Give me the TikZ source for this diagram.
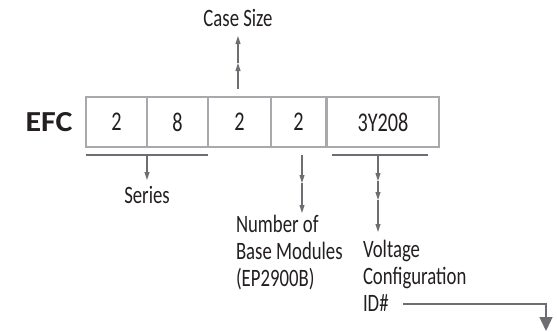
\documentclass[tikz,border=0pt]{standalone}
\usepackage{fontspec}
\setmainfont{Carlito}[FakeStretch=0.75]
\newfontfamily\efcfont{Carlito}[FakeStretch=1.1]
\usetikzlibrary{arrows.meta}
\definecolor{boxgray}{HTML}{A7A9AC}
\definecolor{arrgray}{HTML}{6D6E71}
\definecolor{ink}{HTML}{231F20}
\begin{document}
\begin{tikzpicture}[x=1pt,y=-1pt,
  every node/.style={inner sep=0pt, outer sep=0pt, text=ink},
  cell/.style={draw=boxgray, line width=1.5pt, minimum height=50pt, font=\fontsize{27}{29}\selectfont},
  lbl/.style={font=\fontsize{25}{27}\selectfont, align=left},
  arr/.style={draw=arrgray, line width=1.1pt, -{Triangle[length=8pt,width=5pt]}},
  bigarr/.style={draw=arrgray, line width=1.4pt, -{Triangle[length=14pt,width=13pt]}},
  bracket/.style={draw=arrgray, line width=1.4pt}]
\useasboundingbox (0,0) rectangle (557,332);

% title
\node[font=\efcfont\bfseries\fontsize{29}{32}\selectfont, anchor=base] (efc) at (49,131) {EFC};

% code boxes
\node[cell, minimum width=61pt]  (b1) at (116.5,122) {2};
\node[cell, minimum width=61pt]  (b2) at (177.5,122) {8};
\node[cell, minimum width=63pt]  (b3) at (239.5,122) {2};
\node[cell, minimum width=55pt]  (b4) at (298.5,122) {2};
\node[cell, minimum width=112pt] (b5) at (383,122) {3Y208};

% labels
\node[lbl, anchor=base] (case) at (238,27) {Case Size};
\node[lbl, anchor=base] (series) at (147,203) {Series};
\node[lbl, anchor=north west] (num) at (236,215) {Number of\\Base Modules\\(EP2900B)};
\node[lbl, anchor=north west] (volt) at (363,240) {Voltage\\Configuration\\ID\#};

% coordinates for connectors
\coordinate (cs0) at (238,89);
\coordinate (cs1) at (238,63);
\coordinate (cs2) at (238,36);

\coordinate (sl) at (86,155);
\coordinate (sr) at (208,155);
\coordinate (sm) at (147,155);
\coordinate (st) at (147,180);

\coordinate (n0) at (302,155);
\coordinate (n1) at (302,183);
\coordinate (n2) at (302,213);

\coordinate (vl) at (332,155);
\coordinate (vr) at (428,155);
\coordinate (v0) at (378,155);
\coordinate (v1) at (378,181);
\coordinate (v2) at (378,200);
\coordinate (v3) at (378,232);

\coordinate (id0) at (403,304);
\coordinate (id1) at (546,304);
\coordinate (id2) at (546,331);

% case size
\draw[arr] (cs0) -- (cs1);
\draw[arr] (cs1) -- (cs2);

% series
\draw[bracket] (sl) -- (sr);
\draw[arr] (sm) -- (st);

% number of base modules
\draw[arr] (n0) -- (n1);
\draw[arr] (n1) -- (n2);

% voltage configuration
\draw[bracket] (vl) -- (vr);
\draw[arr] (v0) -- (v1);
\draw[arr] (v1) -- (v2);
\draw[arr] (v2) -- (v3);

% ID# continuation
\draw[bigarr] (id0) -- (id1) -- (id2);
\end{tikzpicture}
\end{document}
